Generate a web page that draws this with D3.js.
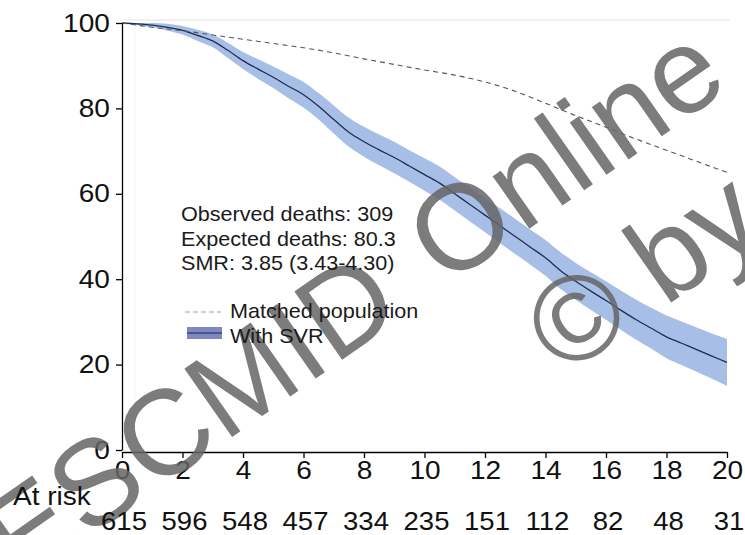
<!DOCTYPE html>
<html>
<head>
<meta charset="utf-8">
<script src="https://cdn.jsdelivr.net/npm/d3@7"></script>
<style>
  body { margin: 0; background: #fff; }
  svg text { font-family: "Liberation Sans", Arial, sans-serif; }
</style>
</head>
<body>
<div id="chart"></div>
<script>
// years since SVR, half-year grid
const years = [0,0.5,1,1.5,2,2.5,3,3.5,4,4.5,5,5.5,6,6.5,7,7.5,8,8.5,9,9.5,10,
               10.5,11,11.5,12,12.5,13,13.5,14,14.5,15,15.5,16,16.5,17,17.5,18,18.5,19,19.5,20];
const survSVR = [100,99.8,99.5,99,98.3,97.1,95.8,93.6,91.2,89.2,87.3,85.2,83.2,80.5,77.4,74.4,72.2,70.3,68.5,66.5,64.5,
                 62.5,60,57.5,55,52.5,50,47.5,45,42,39.5,37.2,35,32.7,30.5,28.5,26.5,25,23.5,22,20.5];
const upperSVR = [100,100,100,99.8,99.3,98.4,97.3,95.4,93.2,91.5,89.8,88,86.2,83.6,80.7,77.8,75.7,73.9,72.2,70.2,68.3,
                  66.4,63.9,61.5,59,56.6,54.1,51.6,49.2,46.3,43.8,41.6,39.5,37.3,35.2,33.3,31.5,30.1,28.7,27.3,26];
const lowerSVR = [100,99.5,99,98.2,97.3,95.8,94.3,91.8,89.2,86.9,84.8,82.4,80.2,77.4,74.1,71,68.7,66.7,64.8,62.8,60.7,
                  58.6,56.1,53.5,51,48.4,45.9,43.4,40.8,37.7,35.2,32.8,30.5,28.1,25.8,23.7,21.5,19.9,18.3,16.7,15];

// matched (expected) population, yearly
const yearsExp = [0,1,2,3,4,5,6,7,8,9,10,11,12,13,14,15,16,17,18,19,20];
const survExp = [100,99,98.2,97.2,96.2,95.2,94.2,93,91.6,90.3,89,87.8,86.2,84,81.2,78.3,75.6,72.8,70.2,67.6,65];

const xTicks = [0,2,4,6,8,10,12,14,16,18,20];
const yTicks = [0,20,40,60,80,100];
const atRisk = [615,596,548,457,334,235,151,112,82,48,31];

const statLines = ["Observed deaths: 309", "Expected deaths: 80.3", "SMR: 3.85 (3.43-4.30)"];
const legendItems = ["Matched population", "With SVR"];

const W = 745, H = 535;
const stretch = 1.1; // the source text is slightly wide
const svg = d3.select("#chart").append("svg")
    .attr("width", W)
    .attr("height", H);

const x = d3.scaleLinear().domain([0, 20]).range([122, 727]);
const y = d3.scaleLinear().domain([0, 100]).range([450, 23]);

const bandColor = "#a7bfe6";
const lineColor = "#1f2d55";

// faint frame lines from the source
svg.append("line")
    .attr("x1", 124).attr("x2", 730).attr("y1", 20).attr("y2", 20)
    .attr("stroke", "#e4e4e4").attr("stroke-width", 1.2);
svg.append("line")
    .attr("x1", 135).attr("x2", 135).attr("y1", 22).attr("y2", 448)
    .attr("stroke", "#f3f3f3").attr("stroke-width", 1);

// confidence band
const band = years.map((t, i) => ({ t: t, lo: lowerSVR[i], hi: upperSVR[i] }));
svg.append("path")
    .datum(band)
    .attr("fill", bandColor)
    .attr("d", d3.area()
        .curve(d3.curveMonotoneX)
        .x(d => x(d.t))
        .y0(d => y(d.lo))
        .y1(d => y(d.hi)));

// SVR curve
svg.append("path")
    .datum(years.map((t, i) => [t, survSVR[i]]))
    .attr("fill", "none")
    .attr("stroke", lineColor)
    .attr("stroke-width", 1.3)
    .attr("d", d3.line().curve(d3.curveMonotoneX).x(d => x(d[0])).y(d => y(d[1])));

// matched population, dashed
svg.append("path")
    .datum(yearsExp.map((t, i) => [t, survExp[i]]))
    .attr("fill", "none")
    .attr("stroke", "#555")
    .attr("stroke-width", 1.1)
    .attr("stroke-dasharray", "5,4")
    .attr("d", d3.line().curve(d3.curveMonotoneX).x(d => x(d[0])).y(d => y(d[1])));

// axes
const yAxis = svg.append("g")
    .attr("transform", "translate(122,0)")
    .call(d3.axisLeft(y).tickValues(yTicks).tickSize(6).tickPadding(5).tickSizeOuter(0));
yAxis.selectAll("text")
    .style("font-size", "25.5px").attr("fill", "#111")
    .attr("transform", `scale(${stretch},1)`);

const xAxis = svg.append("g")
    .attr("transform", "translate(0,452)")
    .call(d3.axisBottom(x).tickValues(xTicks).tickSize(6).tickPadding(3).tickSizeOuter(0));
xAxis.selectAll("text")
    .style("font-size", "25.5px").attr("fill", "#111")
    .attr("transform", `scale(${stretch},1)`);
svg.selectAll(".domain, .tick line").attr("stroke", "#000").attr("stroke-width", 1.3);

// watermark (drawn under the at-risk row)
const wm = svg.append("g").attr("fill", "#666").attr("opacity", 0.85);
wm.append("text")
    .attr("transform", "translate(-4,551) rotate(-35)")
    .attr("dominant-baseline", "central")
    .style("font-size", "121px")
    .style("word-spacing", "15px")
    .text("ESCMID Online");
wm.append("text")
    .attr("transform", "translate(540,343) rotate(-35)")
    .attr("dominant-baseline", "central")
    .style("font-size", "121px")
    .text("© by author");

// at risk row
svg.append("text")
    .attr("transform", `translate(13,505) scale(${stretch},1)`)
    .style("font-size", "25.5px").attr("fill", "#111")
    .text("At risk");
svg.append("g").selectAll("text")
    .data(atRisk)
    .join("text")
    .attr("transform", (d, i) => `translate(${x(xTicks[i]) + 2},530) scale(${stretch},1)`)
    .attr("text-anchor", "middle")
    .style("font-size", "25px").attr("fill", "#111")
    .text(d => d);

// stats text
svg.append("g").selectAll("text")
    .data(statLines)
    .join("text")
    .attr("transform", (d, i) => `translate(181,${221 + i * 24.5}) scale(1.08,1)`)
    .style("font-size", "20px").attr("fill", "#1a1a1a")
    .text(d => d);

// legend
const lg = svg.append("g");
lg.append("line")
    .attr("x1", 185).attr("x2", 221).attr("y1", 312).attr("y2", 312)
    .attr("stroke", "#a898c4").attr("stroke-width", 1.2).attr("stroke-dasharray", "5,3");
lg.append("rect")
    .attr("x", 187).attr("y", 327).attr("width", 35).attr("height", 12)
    .attr("fill", "#8088c0");
lg.append("line")
    .attr("x1", 187).attr("x2", 222).attr("y1", 333).attr("y2", 333)
    .attr("stroke", "#3a4680").attr("stroke-width", 1.3);
lg.selectAll("text")
    .data(legendItems)
    .join("text")
    .attr("transform", (d, i) => `translate(230,${318 + i * 25}) scale(1.08,1)`)
    .style("font-size", "20px").attr("fill", "#1a1a1a")
    .text(d => d);
</script>
</body>
</html>
